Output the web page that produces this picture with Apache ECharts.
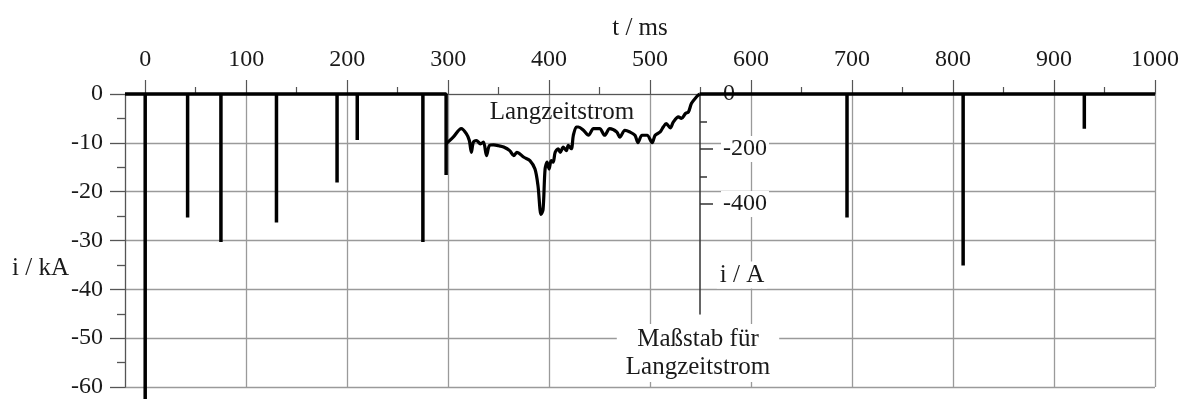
<!DOCTYPE html>
<html>
<head>
<meta charset="utf-8">
<script src="https://cdn.jsdelivr.net/npm/echarts@6/dist/echarts.min.js"></script>
<style>
html,body{margin:0;padding:0;background:#fff;}
#chart{width:1189px;height:399px;}
</style>
</head>
<body>
<div id="chart"></div>
<script>
// ---- axis ticks ----
const timeMin = -20;
const timeMax = 1000;
const timeMajorTicks = [0, 100, 200, 300, 400, 500, 600, 700, 800, 900, 1000];
const timeMinorTicks = [50, 150, 250, 350, 450, 550, 650, 750, 850, 950];
const kAMin = -60;
const kAMax = 0;
const ampMin = -800;
const ampLabelValues = [0, -200, -400];
const ampMajorTicks = [-200, -400];
const ampMinorTicks = [-100, -300];

// ---- impulse currents (t in ms, i in kA) ----
const spikeTimes = [0, 42, 75, 130, 190, 210, 275, 298, 695, 810, 930];
const spikePeaks = [-63, -25.3, -30.3, -26.3, -18.1, -9.4, -30.3, -16.6, -25.3, -35.1, -7.1];
// interval in which the long-duration current flows (baseline interrupted)
const longCurrentSpan = [298, 549];

// ---- long-duration current (t in ms, i in A) ----
const lzTimes = [298, 305, 313, 318, 321, 323, 325, 328, 332, 335, 338, 341, 345, 350, 355, 361, 365, 368, 375, 381, 386, 389, 392, 394, 396, 398, 400, 402, 404, 406, 409, 411, 414, 417, 419, 422, 424, 427, 429, 434, 439, 444, 450, 455, 460, 467, 470, 475, 480, 485, 488, 492, 497, 502, 505, 510, 513, 516, 520, 523, 528, 531, 535, 538, 541, 546, 549];
const lzCurrent = [-181, -157, -126, -144, -169, -212, -175, -169, -181, -175, -224, -187, -185, -188, -193, -206, -224, -212, -230, -242, -273, -334, -438, -420, -273, -248, -273, -242, -248, -212, -199, -212, -193, -206, -187, -199, -150, -120, -120, -132, -150, -126, -126, -150, -126, -138, -157, -132, -138, -150, -177, -150, -150, -177, -150, -138, -120, -108, -123, -102, -83, -89, -71, -65, -34, -10, 0];

// ---- build series data from the arrays ----
const spikeData = [[timeMin, 0]];
spikeTimes.forEach((t, i) => {
  spikeData.push([t, 0], [t, spikePeaks[i]]);
  if (t === longCurrentSpan[0]) {
    spikeData.push([t, '-'], [longCurrentSpan[1], 0]);
  } else {
    spikeData.push([t, 0]);
  }
});
spikeData.push([timeMax, 0]);
const lzData = lzTimes.map((t, i) => [t, lzCurrent[i]]);

// ---- layout ----
const G_LEFT = 125, G_TOP = 94, G_W = 1030, G_H = 295;
const PX_PER_A = 0.2755;
const AMP_AXIS_X = 700;

const FONT = '"Liberation Serif", "Times New Roman", serif';
const TXT = '#1a1a1a';
const GRIDC = '#9a9a9a';
const AXC = '#555';
const plain = v => String(v);

const chart = echarts.init(document.getElementById('chart'), null, {renderer: 'canvas'});
chart.setOption({
  animation: false,
  backgroundColor: '#fff',
  grid: [
    {left: G_LEFT, top: G_TOP, width: G_W, height: G_H, containLabel: false},
    {left: G_LEFT, top: G_TOP, width: G_W, height: Math.round(-ampMin * PX_PER_A), containLabel: false}
  ],
  xAxis: [
    {
      type: 'value', gridIndex: 0, position: 'top', min: timeMin, max: timeMax,
      name: 't / ms', nameLocation: 'middle', nameGap: 53,
      nameTextStyle: {fontFamily: FONT, fontSize: 25, color: TXT},
      axisLine: {show: true, onZero: false, lineStyle: {color: AXC, width: 1}},
      axisTick: {show: true, length: 14, customValues: timeMajorTicks, lineStyle: {color: AXC, width: 1.2}},
      axisLabel: {show: true, margin: 22, customValues: timeMajorTicks, formatter: plain,
                  fontFamily: FONT, fontSize: 24, color: TXT},
      splitLine: {show: true, lineStyle: {color: GRIDC, width: 1.3}}
    },
    {
      type: 'value', gridIndex: 0, position: 'top', min: timeMin, max: timeMax,
      axisLine: {show: false, onZero: false},
      axisTick: {show: true, length: 7, customValues: timeMinorTicks, lineStyle: {color: AXC, width: 1.2}},
      axisLabel: {show: false},
      splitLine: {show: false}
    },
    {
      type: 'value', gridIndex: 1, min: timeMin, max: timeMax, show: false
    }
  ],
  yAxis: [
    {
      type: 'value', gridIndex: 0, position: 'left', min: kAMin, max: kAMax, interval: 10,
      axisLine: {show: true, onZero: false, lineStyle: {color: AXC, width: 1.3}},
      axisTick: {show: true, length: 15, lineStyle: {color: AXC, width: 1.3}},
      minorTick: {show: true, splitNumber: 2, length: 8, lineStyle: {color: AXC, width: 1.3}},
      axisLabel: {margin: 22, formatter: plain, fontFamily: FONT, fontSize: 24, color: TXT},
      splitLine: {show: true, lineStyle: {color: GRIDC, width: 1.3}}
    },
    {
      type: 'value', gridIndex: 1, position: 'right', offset: AMP_AXIS_X - (G_LEFT + G_W),
      min: ampMin, max: 0,
      axisLine: {show: true, onZero: false, lineStyle: {color: '#333', width: 1.5}},
      axisTick: {show: true, length: 13, customValues: ampMajorTicks, lineStyle: {color: '#333', width: 1.5}},
      axisLabel: {show: true, margin: 21, customValues: ampLabelValues, formatter: plain,
                  fontFamily: FONT, fontSize: 24, color: TXT,
                  backgroundColor: '#fff', padding: [1, 2]},
      splitLine: {show: false}
    },
    {
      type: 'value', gridIndex: 1, position: 'right', offset: AMP_AXIS_X - (G_LEFT + G_W),
      min: ampMin, max: 0,
      axisLine: {show: false, onZero: false},
      axisTick: {show: true, length: 7, customValues: ampMinorTicks, lineStyle: {color: '#333', width: 1.5}},
      axisLabel: {show: false},
      splitLine: {show: false}
    }
  ],
  graphic: [
    {type: 'text', left: 12, top: 256, z: 100,
     style: {text: 'i / kA', font: '25px ' + FONT, fill: TXT}},
    {type: 'text', x: 562, y: 112, z: 100,
     style: {text: 'Langzeitstrom', font: '25px ' + FONT, fill: TXT, align: 'center', verticalAlign: 'middle'}},
    {type: 'text', x: 742, y: 275, z: 100,
     style: {text: 'i / A', font: '25px ' + FONT, fill: TXT, align: 'center', verticalAlign: 'middle',
             backgroundColor: '#fff', padding: [1, 3]}},
    {type: 'text', x: 698, y: 353, z: 100,
     style: {text: 'Maßstab für\nLangzeitstrom', font: '25px ' + FONT, fill: TXT, align: 'center', verticalAlign: 'middle',
             lineHeight: 28, backgroundColor: '#fff', padding: [1, 9]}}
  ],
  series: [
    {
      name: 'Stoßströme', type: 'line', xAxisIndex: 0, yAxisIndex: 0,
      data: spikeData, showSymbol: false, symbol: 'none', clip: false, connectNulls: false,
      lineStyle: {color: '#000', width: 3.5, join: 'bevel'}, z: 10
    },
    {
      name: 'Langzeitstrom', type: 'line', xAxisIndex: 2, yAxisIndex: 1,
      data: lzData, showSymbol: false, symbol: 'none', smooth: 0.3, clip: false,
      lineStyle: {color: '#000', width: 3.2}, z: 10
    }
  ]
});
</script>
</body>
</html>
